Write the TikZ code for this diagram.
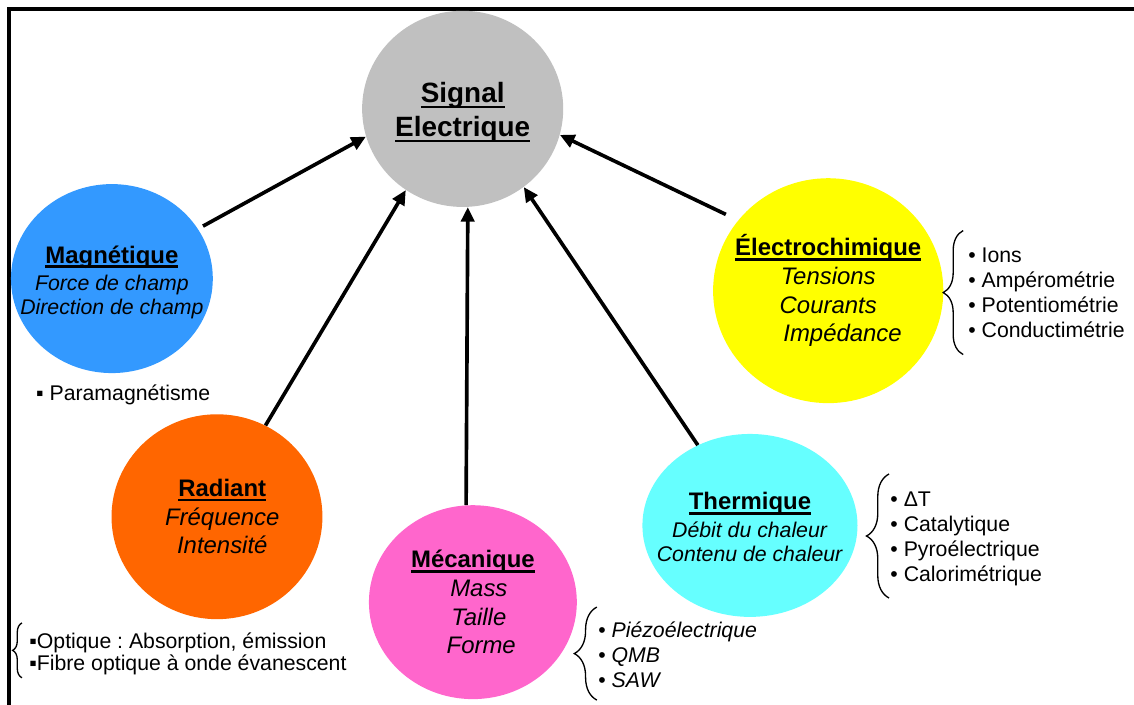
\documentclass[tikz,border=0pt]{standalone}
\usepackage{fontspec}
\setmainfont{Liberation Sans}
\usepackage{tikz}
\usetikzlibrary{shapes.geometric}
\usetikzlibrary{arrows.meta}
\usetikzlibrary{decorations.pathreplacing}
\frenchspacing

\definecolor{gris}{HTML}{C0C0C0}
\definecolor{bleu}{HTML}{3399FF}
\definecolor{orangefonce}{HTML}{FF6600}
\definecolor{rose}{HTML}{FF66CC}
\definecolor{turquoise}{HTML}{66FFFF}
\definecolor{jaune}{HTML}{FFFF00}

\newsavebox{\titrebox}
\newcommand{\titre}[1]{\sbox{\titrebox}{\bfseries #1}\rlap{\rule[-0.2em]{\wd\titrebox}{0.1em}}\usebox{\titrebox}}

\begin{document}
\begin{tikzpicture}[
	bulle/.style={ellipse,inner sep=0pt},
	texte/.style={align=center,inner sep=0pt,font=\fontsize{18}{21.5}\selectfont},
	petit/.style={texte,font=\fontsize{16}{18}\selectfont},
	fleche/.style={-{Triangle[length=11pt,width=10pt]},line width=2.75pt},
	liste/.style={anchor=west,align=left,inner sep=0pt,font=\fontsize{16}{18.75}\selectfont},
	accolade/.style={decorate,decoration={brace,amplitude=17pt},line width=1pt}]
	
	% cadre
	\useasboundingbox (0,0) rectangle (30cm,-18.63cm);
	\coordinate (cadreBG) at (0.25cm,-19.5cm);
	\coordinate (cadreHD) at (30.5cm,-0.24cm);
	\draw[line width=3pt] (cadreBG) |- (cadreHD);
	
	% signal
	\node[bulle,fill=gris,minimum width=5.32cm,minimum height=5.19cm,
		label={[texte,yshift=-0.1cm,font=\fontsize{21}{25.5}\selectfont]center:{\titre{Signal}\\\titre{Electrique}}}] (sig) at (12.24cm,-2.88cm) {};
	
	% capteurs
	\node[bulle,fill=bleu,minimum width=5.34cm,minimum height=5cm,
		label={[petit,yshift=-0.1cm]center:{{\fontsize{18}{21}\selectfont\titre{Magnétique}}\\[3pt]\textit{Force de champ}\\\textit{Direction de champ}}}] (mag) at (2.96cm,-7.37cm) {};
	\node[bulle,fill=orangefonce,minimum width=5.58cm,minimum height=5.42cm,
		label={[texte,xshift=0.14cm]center:{\titre{Radiant}\\\textit{Fréquence}\\\textit{Intensité}}}] (rad) at (5.74cm,-13.67cm) {};
	\node[bulle,fill=rose,minimum width=5.5cm,minimum height=5.13cm,
		label={[texte]center:{\titre{Mécanique}\\\hspace*{0.5em}\textit{Mass}\\\hspace*{0.5em}\textit{Taille}\\\hspace*{0.7em}\textit{Forme}}}] (meca) at (12.51cm,-15.93cm) {};
	\node[bulle,fill=turquoise,minimum width=5.69cm,minimum height=4.84cm,
		label={[petit,yshift=-0.05cm]center:{{\fontsize{18}{21}\selectfont\titre{Thermique}}\\[3pt]\textit{Débit du chaleur}\\\textit{Contenu de chaleur}}}] (therm) at (19.84cm,-13.9cm) {};
	\node[bulle,fill=jaune,minimum width=6.09cm,minimum height=5.95cm,
		label={[texte]center:{\titre{Électrochimique}\\\textit{Tensions}\\\textit{Courants}\\\hspace*{1.2em}\textit{Impédance}}}] (elec) at (21.91cm,-7.69cm) {};
	
	% fleches
	\draw[fleche,shorten <=0.15cm] (mag.30) -- (sig.196);
	\draw[fleche] (rad.62) -- (sig.235);
	\draw[fleche] (meca.94) -- (sig.273);
	\draw[fleche] (therm.123) -- (sig.308);
	\draw[fleche,shorten <=0.36cm] (elec.142) -- (sig.345);
	
	% listes
	\node[liste] (para) at (0.95cm,-10.45cm) {▪ Paramagnétisme};
	\node[liste,font=\fontsize{16}{16.5}\selectfont] (optl) at (0.77cm,-17.3cm) {▪Optique : Absorption, émission\\▪Fibre optique à onde évanescent};
	\node[liste] (elist) at (25.61cm,-7.74cm) {• Ions\\• Ampérométrie\\• Potentiométrie\\• Conductimétrie};
	\node[liste] (tlist) at (23.55cm,-14.26cm) {• ΔT\\• Catalytique\\• Pyroélectrique\\• Calorimétrique};
	\node[liste] (mlist) at (15.82cm,-17.32cm) {• \textit{Piézoélectrique}\\• \textit{QMB}\\• \textit{SAW}};
	
	% accolades
	\draw[accolade,decoration={amplitude=7pt}] ([xshift=-0.19cm,yshift=-0.63cm]optl.west) -- ([xshift=-0.19cm,yshift=0.82cm]optl.west);
	\draw[accolade,decoration={amplitude=15pt}] ([xshift=-0.13cm,yshift=-1.64cm]elist.west) -- ([xshift=-0.13cm,yshift=1.64cm]elist.west);
	\draw[accolade] ([xshift=-0.03cm,yshift=-1.56cm]tlist.west) -- ([xshift=-0.03cm,yshift=1.72cm]tlist.west);
	\draw[accolade] ([xshift=-0.03cm,yshift=-1.2cm]mlist.west) -- ([xshift=-0.03cm,yshift=1.26cm]mlist.west);
	
\end{tikzpicture}
\end{document}
